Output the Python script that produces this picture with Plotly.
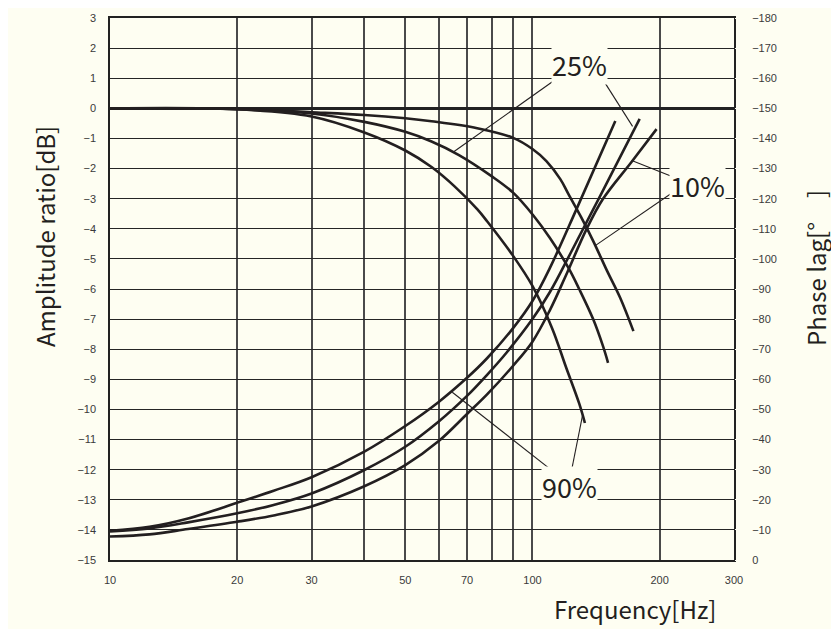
import math
import plotly.graph_objects as go

# ---------------- data ----------------
# Amplitude ratio [dB] curves
freq_a10 = [10, 20, 30, 40, 50, 57.7, 74.0, 90, 100, 107.9, 116.4, 121.7, 130.2, 139.2, 150.2, 161.4, 173.4]
amp_a10 = [0, -0.02, -0.13, -0.22, -0.33, -0.43, -0.66, -0.98, -1.35, -1.75, -2.35, -2.85, -3.6, -4.4, -5.4, -6.3, -7.4]

freq_a25 = [10, 20, 30, 40, 50, 57.7, 67.0, 80, 90, 100.4, 109.9, 121.7, 129, 139.2, 146.9, 151]
amp_a25 = [0, -0.03, -0.17, -0.45, -0.78, -1.1, -1.55, -2.25, -2.8, -3.55, -4.3, -5.3, -6.0, -7.0, -7.9, -8.45]

freq_a90 = [10, 20, 30, 40, 50, 57.7, 65.5, 74.0, 78.1, 90, 100, 111.3, 120.1, 129, 133.1]
amp_a90 = [0, -0.03, -0.27, -0.8, -1.4, -1.95, -2.6, -3.35, -3.75, -4.9, -5.9, -7.3, -8.6, -9.8, -10.45]

# Phase lag [deg] curves
freq_p90 = [10, 12.4, 15.3, 20, 24.4, 30, 40, 50, 60, 70, 78.1, 90, 100, 110, 127.3, 157.1]
phase_p90 = [-9.7, -11.0, -13.8, -19.0, -23.0, -27.5, -36.0, -44.5, -52.5, -60.5, -67.0, -77.0, -86.0, -97.0,
             -116.7, -145.8]

freq_p25 = [10, 12.4, 15.3, 20, 24.4, 30, 40, 50, 60, 70, 78.1, 87.0, 100, 110, 123.4, 145.6, 179.4]
phase_p25 = [-9.5, -10.5, -12.5, -15.5, -18.3, -22.1, -29.9, -37.6, -46.0, -54.5, -61.5, -69.0, -80.0, -89.0,
             -102.2, -121.7, -146.5]

freq_p10 = [10, 12.4, 15.3, 20, 24.4, 30, 40, 50, 60, 70, 78.1, 90, 100, 110, 120, 134.2, 146.7, 171.6, 196.7]
phase_p10 = [-7.8, -8.5, -10.3, -12.7, -14.8, -17.8, -24.5, -31.5, -39.5, -48.5, -55.0, -64.5, -72.5, -83.0,
             -94.5, -109.8, -119.8, -132.2, -143.1]

# Grid / tick labels
x_grid = [10, 20, 30, 40, 50, 60, 70, 80, 90, 100, 200, 300]
x_labels = ["10", "20", "30", "", "50", "", "70", "", "", "100", "200", "300"]

# Curve labels: (text, freq, dB)
labels = [("25%", 129, 1.45), ("10%", 245.6, -2.56), ("90%", 122.3, -12.56)]
# Leader lines: ((freq, dB) at label, (freq, dB) at curve)
leaders = [
    ((115.4, 1.03), (65.0, -1.45)),
    ((143.7, 1.16), (172.6, -0.6)),
    ((216.2, -2.29), (171.8, -1.73)),
    ((218.6, -2.72), (141.1, -4.55)),
    ((122.8, -12.26), (131.4, -10.2)),
    ((117.5, -12.29), (64.6, -9.43)),
]

# ---------------- styling ----------------
BG = "#fefef2"
INK = "#231f20"
TICKFONT = dict(family="Liberation Sans, Arial, sans-serif", size=11, color="#3a3a3a")
TITLEFONT = dict(family="Noto Sans CJK JP, Noto Sans, sans-serif", size=24, color=INK)

# page body has an 8px margin: the figure is drawn 8px smaller and offset
OFF = 8
FIG_W, FIG_H = 839 - OFF, 629 - OFF
W0, W1, H0, H1 = 110, 734, 18, 560  # plot-area edges in page pixels

fig = go.Figure()

for fx, fy in [(freq_a10, amp_a10), (freq_a25, amp_a25), (freq_a90, amp_a90)]:
    fig.add_trace(go.Scatter(x=fx, y=fy, mode="lines", yaxis="y",
                             line=dict(color=INK, width=2.6, shape="spline", smoothing=1.0),
                             hoverinfo="skip", showlegend=False))

for fx, fy in [(freq_p90, phase_p90), (freq_p25, phase_p25), (freq_p10, phase_p10)]:
    fig.add_trace(go.Scatter(x=fx, y=fy, mode="lines", yaxis="y2",
                             line=dict(color=INK, width=2.6, shape="spline", smoothing=1.0),
                             hoverinfo="skip", showlegend=False))

for (a, b) in leaders:
    fig.add_trace(go.Scatter(x=[a[0], b[0]], y=[a[1], b[1]], mode="lines", yaxis="y",
                             line=dict(color=INK, width=1.1),
                             hoverinfo="skip", showlegend=False))

annotations = []
for text, fx, fy in labels:
    annotations.append(dict(x=math.log10(fx), y=fy, xref="x", yref="y", text=text, showarrow=False,
                            font=dict(family="Noto Sans CJK JP, Noto Sans, sans-serif", size=27, color=INK),
                            bgcolor=BG, borderpad=0, xanchor="center", yanchor="middle"))


def px_x(p):
    return (p - W0) / (W1 - W0)


def px_y(p):
    return (H1 - p) / (H1 - H0)


annotations.append(dict(x=px_x(45), y=px_y(237), xref="paper", yref="paper", text="Amplitude ratio[dB]",
                        textangle=-90, showarrow=False, font=TITLEFONT, xanchor="center", yanchor="middle"))
annotations.append(dict(x=px_x(815), y=px_y(268), xref="paper", yref="paper", text="Phase lag[°\u3000]",
                        textangle=-90, showarrow=False, font=TITLEFONT, xanchor="center", yanchor="middle"))
annotations.append(dict(x=px_x(635), y=px_y(608), xref="paper", yref="paper", text="Frequency[Hz]",
                        showarrow=False, font=TITLEFONT, xanchor="center", yanchor="middle"))

fig.update_layout(
    width=FIG_W, height=FIG_H,
    margin=dict(l=W0 - OFF, r=FIG_W - (W1 - OFF), t=H0 - OFF, b=FIG_H - (H1 - OFF), pad=0),
    paper_bgcolor=BG, plot_bgcolor=BG,
    showlegend=False,
    annotations=annotations,
    xaxis=dict(type="log", range=[1, math.log10(300)], tickvals=x_grid, ticktext=x_labels,
               showgrid=True, gridcolor="#4a4a4a", gridwidth=1.5, automargin=False,
               showline=True, mirror=True, linecolor="#222", linewidth=1.5,
               ticks="outside", ticklen=9, tickcolor=BG, tickfont=TICKFONT, zeroline=False),
    yaxis=dict(range=[-15, 3], tick0=0, dtick=1, showgrid=True, gridcolor="#262626", gridwidth=1.3,
               zeroline=True, zerolinecolor="#222", zerolinewidth=2.6, automargin=False,
               showline=True, mirror=True, linecolor="#222", linewidth=1.5,
               ticks="outside", ticklen=10, tickcolor=BG, tickfont=TICKFONT),
    yaxis2=dict(overlaying="y", side="right", range=[0, -180], tick0=0, dtick=10, showgrid=False,
                automargin=False, zeroline=False, showline=False, ticks="outside", ticklen=15,
                tickcolor=BG, tickfont=TICKFONT),
)

fig.write_html("out.html", config={"displayModeBar": False})
